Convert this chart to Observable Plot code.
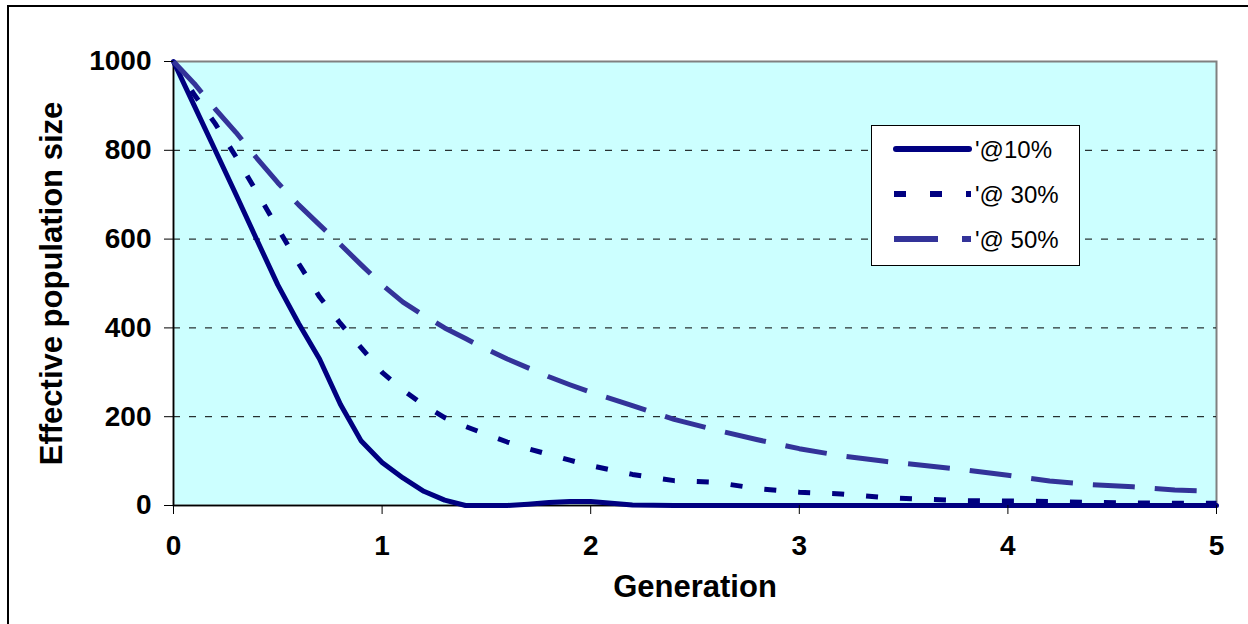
<!DOCTYPE html>
<html>
<head>
<meta charset="utf-8">
<script src="https://cdn.jsdelivr.net/npm/d3@7"></script>
<script src="https://cdn.jsdelivr.net/npm/@observablehq/plot@0.6"></script>
<style>
  html, body { margin: 0; padding: 0; background: #fff; }
  #wrap { position: relative; width: 1248px; height: 624px; overflow: hidden; font-family: Arial, "Liberation Sans", sans-serif; }
  #border { position: absolute; left: 7px; top: 5px; width: 1300px; height: 700px; border-left: 2px solid #000; border-top: 2px solid #000; }
  #chart { position: absolute; left: 0; top: 0; }
  #legend { position: absolute; left: 871px; top: 125px; width: 207px; height: 139px; border: 1px solid #000; background: #fff; }
</style>
</head>
<body>
<div id="wrap">
  <div id="border"></div>
  <div id="chart"></div>
  <div id="legend"></div>
</div>
<script>
// ---- data ----
const generations = [0,0.1,0.2,0.3,0.4,0.5,0.6,0.7,0.8,0.9,1.0,1.1,1.2,1.3,1.4,1.5,1.6,1.7,1.8,1.9,2.0,
                     2.2,2.4,2.6,2.8,3.0,3.2,3.4,3.6,3.8,4.0,4.2,4.4,4.6,4.8,5.0];
const pop10 = [1000,900,800,700,598,497,410,330,228,145,97,62,32,12,0,0,0,3,7,9,9,
               1,0,0,0,0,0,0,0,0,0,0,0,0,0,0];
const pop30 = [1000,925,860,785,705,625,545,470,410,355,300,260,226,198,178,160,143,128,115,102,90,
               70,56,52,38,30,26,18,14,11,10,9,7,6,5,5];
const pop50 = [1000,950,893,840,782,727,677,632,588,542,497,458,428,400,376,352,330,310,290,272,255,
               225,194,170,148,128,112,100,90,80,68,55,47,42,35,32];
const seriesLabels = ["'@10%", "'@ 30%", "'@ 50%"];
const seriesColors = ["#000080", "#000080", "#333399"];
const seriesDash = [null, "12,22", "42,20"];
const yTicks = [0, 200, 400, 600, 800, 1000];
const xTicks = [0, 1, 2, 3, 4, 5];
const gridValues = [200, 400, 600, 800];
const xTitle = "Generation";
const yTitle = "Effective population size";

const allPops = [pop10, pop30, pop50];
const series = allPops.map((pops, i) => generations.map((g, j) => ({gen: g, pop: pops[j], series: seriesLabels[i]})));

const font = "Arial, 'Liberation Sans', sans-serif";

const chart = Plot.plot({
  width: 1248,
  height: 624,
  marginLeft: 173,
  marginRight: 32,
  marginTop: 61,
  marginBottom: 119,
  style: {fontFamily: font, background: "transparent", color: "#000"},
  x: {domain: [0, 5]},
  y: {domain: [0, 1000]},
  marks: [
    Plot.frame({fill: "#ccffff", stroke: "#808080", strokeWidth: 2}),
    Plot.ruleY(gridValues, {stroke: "#000", strokeWidth: 1, strokeDasharray: "7,9"}),
    Plot.ruleX([0], {stroke: "#000", strokeWidth: 1.5}),
    Plot.ruleY([0], {stroke: "#000", strokeWidth: 1.5}),
    ...series.map((data, i) => Plot.line(data, {
      x: "gen", y: "pop",
      stroke: seriesColors[i], strokeWidth: 5,
      strokeDasharray: seriesDash[i] || undefined,
      strokeLinejoin: "round",
      strokeLinecap: i === 0 ? "round" : "butt"
    })),
    Plot.axisY({ticks: yTicks, tickSize: 9, tickPadding: 13, tickFormat: d => String(d),
      fontSize: 28, fontWeight: "bold", label: null, stroke: "#000"}),
    Plot.axisX({ticks: xTicks, tickSize: 9, tickPadding: 21, tickFormat: d => String(d),
      fontSize: 28, fontWeight: "bold", label: null, stroke: "#000"}),
    Plot.text([xTitle], {frameAnchor: "bottom", dy: 82, lineAnchor: "middle", textAnchor: "middle",
      text: d => d, fontSize: 31, fontWeight: "bold", fill: "#000"}),
    Plot.text([yTitle], {frameAnchor: "left", dx: -121, rotate: -90, lineAnchor: "middle", textAnchor: "middle",
      text: d => d, fontSize: 31, fontWeight: "bold", fill: "#000"})
  ]
});
document.getElementById("chart").appendChild(chart);

// ---- legend ----
const leg = d3.select("#legend").append("svg").attr("width", 207).attr("height", 139);
const rowY = [23, 68, 113];
seriesLabels.forEach((lab, i) => {
  leg.append("line")
    .attr("x1", i === 0 ? 24 : 22).attr("x2", i === 0 ? 97 : 99)
    .attr("y1", rowY[i]).attr("y2", rowY[i])
    .attr("stroke", seriesColors[i]).attr("stroke-width", 6)
    .attr("stroke-linecap", i === 0 ? "round" : "butt")
    .attr("stroke-dasharray", seriesDash[i] ? (i === 1 ? "12,24" : "44,24") : null);
  leg.append("text")
    .attr("x", 103).attr("y", rowY[i]).attr("dy", "0.36em")
    .attr("font-family", font).attr("font-size", 24)
    .attr("fill", "#000")
    .text(lab);
});
</script>
</body>
</html>
